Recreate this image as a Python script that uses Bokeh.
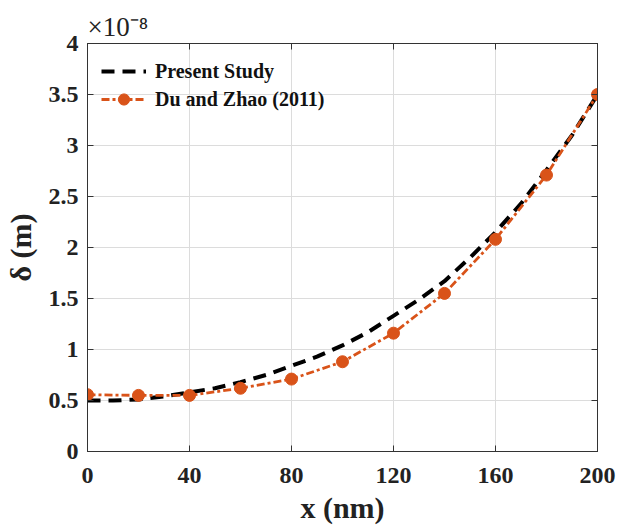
from bokeh.plotting import figure
from bokeh.models import LinearAxis, Range1d, FixedTicker, Legend, LegendItem, Title
from bokeh.embed import file_html
from bokeh.resources import INLINE

# data (delta in units of 1e-8 m)
x_present = [0, 10, 20, 30, 40, 50, 60, 70, 80, 90, 100, 110, 120, 130, 140, 150, 160, 170, 180, 190, 200]
y_present = [0.50, 0.50, 0.51, 0.54, 0.58, 0.62, 0.68, 0.75, 0.84, 0.93, 1.04, 1.17, 1.33, 1.49, 1.67, 1.90, 2.15, 2.43, 2.76, 3.10, 3.50]
x_du = [0, 20, 40, 60, 80, 100, 120, 140, 160, 180, 200]
y_du = [0.557, 0.55, 0.55, 0.62, 0.71, 0.88, 1.16, 1.55, 2.08, 2.71, 3.50]
x_ticks = [0, 40, 80, 120, 160, 200]
y_ticks = [0, 0.5, 1, 1.5, 2, 2.5, 3, 3.5, 4]

FONT = "Liberation Serif"
ORANGE = "#D95319"

p = figure(width=617, height=532, output_backend="svg", toolbar_location=None,
           x_range=Range1d(0, 200), y_range=Range1d(0, 4),
           min_border_left=86, min_border_right=20, min_border_top=43, min_border_bottom=81)
p.outline_line_color = "#333333"
p.outline_line_width = 1

p.title = Title(text="×10⁻⁸", align="left", offset=0, standoff=4,
                text_font=FONT, text_font_size="27px", text_font_style="normal",
                text_color="#222222")

for ax in (p.xaxis[0], p.yaxis[0]):
    ax.major_label_text_font = FONT
    ax.major_label_text_font_style = "bold"
    ax.major_label_text_font_size = "24px"
    ax.major_label_text_color = "#222222"
    ax.axis_label_text_font = FONT
    ax.axis_label_text_font_style = "bold"
    ax.axis_label_text_font_size = "30px"
    ax.axis_label_text_color = "#222222"
    ax.major_tick_in = 6
    ax.major_tick_out = 0
    ax.minor_tick_in = 0
    ax.minor_tick_out = 0
    ax.axis_line_color = "#333333"
    ax.major_tick_line_color = "#333333"

p.xaxis[0].ticker = FixedTicker(ticks=x_ticks)
p.yaxis[0].ticker = FixedTicker(ticks=y_ticks)
p.xaxis[0].major_label_overrides = {t: str(t) for t in x_ticks}
p.yaxis[0].major_label_overrides = {t: ("%g" % t) for t in y_ticks}
p.xaxis[0].axis_label = "x (nm)"
p.yaxis[0].axis_label = "δ (m)"
p.xaxis[0].major_label_standoff = 16
p.yaxis[0].major_label_standoff = 9
p.xaxis[0].axis_label_standoff = 5
p.yaxis[0].axis_label_standoff = 9

top = LinearAxis(ticker=FixedTicker(ticks=x_ticks), major_label_overrides={t: "" for t in x_ticks},
                 major_tick_in=6, major_tick_out=0, minor_tick_in=0, minor_tick_out=0,
                 major_label_standoff=0,
                 axis_line_color="#333333", major_tick_line_color="#333333")
right = LinearAxis(ticker=FixedTicker(ticks=y_ticks), major_label_overrides={t: "" for t in y_ticks},
                   major_tick_in=6, major_tick_out=0, minor_tick_in=0, minor_tick_out=0,
                   major_label_standoff=0,
                   axis_line_color="#333333", major_tick_line_color="#333333")
p.add_layout(top, "above")
p.add_layout(right, "right")

p.xgrid.ticker = FixedTicker(ticks=x_ticks)
p.ygrid.ticker = FixedTicker(ticks=y_ticks)
p.grid.grid_line_color = "#dcdcdc"
p.grid.grid_line_width = 1

r1 = p.line(x_present, y_present, line_color="black", line_width=4, line_dash="13 8")
r2 = p.line(x_du, y_du, line_color=ORANGE, line_width=2.8, line_dash="8 3 3 3")
r3 = p.scatter(x_du, y_du, size=12, fill_color=ORANGE, line_color=ORANGE)

legend = Legend(items=[LegendItem(label="Present Study", renderers=[r1]),
                       LegendItem(label="Du and Zhao (2011)", renderers=[r2, r3])],
                location="top_left")
legend.label_text_font = FONT
legend.label_text_font_style = "bold"
legend.label_text_font_size = "20px"
legend.label_text_color = "#111111"
legend.border_line_alpha = 0
legend.background_fill_alpha = 0
legend.glyph_width = 45
legend.label_standoff = 9
legend.label_height = 28
legend.glyph_height = 28
legend.spacing = 0
legend.margin = 10
legend.padding = 4
p.add_layout(legend)

open("out.html", "w").write(file_html(p, INLINE))
